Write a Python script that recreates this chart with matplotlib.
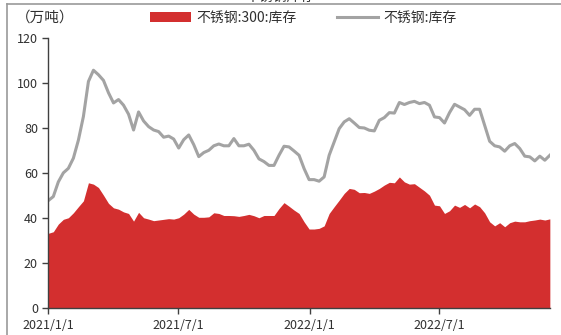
import numpy as np
import pandas as pd
import matplotlib
matplotlib.use("Agg")
import matplotlib.pyplot as plt
from matplotlib.patches import Patch
from matplotlib.lines import Line2D

plt.rcParams['font.family'] = ['Noto Sans CJK SC', 'DejaVu Sans']

# weekly stainless steel inventory, 10k tonnes
dates = pd.date_range("2021-01-01", periods=101, freq="7D")

stock_300 = [
    33.2, 33.9, 37.3, 39.4, 40.1, 42.3, 45.0, 47.6, 55.6, 55.0,
    53.5, 50.1, 46.5, 44.5, 43.9, 42.7, 42.0, 38.6, 42.5, 40.1,
    39.5, 38.8, 39.1, 39.4, 39.7, 39.5, 40.1, 41.7, 43.8, 41.7,
    40.3, 40.3, 40.5, 42.3, 42.0, 41.1, 41.1, 41.0, 40.7, 41.1,
    41.6, 41.0, 40.1, 41.1, 41.1, 41.1, 44.2, 46.8, 45.2, 43.5,
    42.0, 38.3, 35.1, 35.1, 35.4, 36.5, 42.0, 45.0, 47.9, 50.9,
    53.1, 52.7, 51.2, 51.3, 50.9, 51.9, 53.1, 54.6, 55.8, 55.6,
    58.2, 56.0, 55.0, 55.2, 53.6, 52.0, 50.1, 45.7, 45.4, 42.0,
    43.2, 45.7, 44.7, 46.0, 44.5, 46.2, 45.0, 42.3, 38.3, 36.5,
    37.9, 36.1, 37.9, 38.6, 38.3, 38.3, 38.8, 39.1, 39.5, 39.1,
    39.6,
]

stock_total = [
    47.7, 49.5, 56.0, 60.0, 62.0, 66.5, 74.5, 85.0, 100.5, 105.5,
    103.5, 101.0, 95.5, 91.0, 92.5, 90.0, 86.0, 79.0, 87.0, 83.0,
    80.5, 79.0, 78.3, 75.8, 76.3, 75.0, 71.0, 74.7, 76.8, 72.5,
    67.2, 69.0, 70.0, 72.0, 72.8, 72.0, 72.0, 75.2, 72.0, 72.0,
    72.7, 70.0, 66.2, 65.0, 63.3, 63.3, 67.8, 71.8, 71.5, 69.7,
    67.8, 61.9, 57.0, 57.0, 56.3, 58.2, 67.8, 73.7, 79.6, 82.6,
    84.0, 82.1, 80.1, 79.9, 78.9, 78.6, 83.3, 84.5, 86.7, 86.5,
    91.2, 90.3, 91.2, 91.7, 90.7, 91.2, 90.0, 84.8, 84.5, 82.1,
    86.7, 90.4, 89.2, 88.0, 85.5, 88.2, 88.2, 81.1, 74.0, 72.0,
    71.5, 69.6, 72.0, 73.0, 70.8, 67.4, 67.1, 65.3, 67.4, 65.6,
    67.8,
]

tick_dates = pd.to_datetime(["2021-01-01", "2021-07-01", "2022-01-01", "2022-07-01"])
tick_labels = ["2021/1/1", "2021/7/1", "2022/1/1", "2022/7/1"]
series_names = ["不锈钢:300:库存", "不锈钢:库存"]

red = "#d32f2f"
grey = "#a3a3a3"
axis_col = "#404040"
text_col = "#303030"

fig = plt.figure(figsize=(5.61, 3.35), dpi=100)
ax = fig.add_axes([0.0861, 0.080, 0.894, 0.808])

ax.fill_between(dates, 0, stock_300, color=red, linewidth=0)
ax.plot(dates, stock_total, color=grey, linewidth=2.2)

ax.set_xlim(dates[0], dates[-1])
ax.set_ylim(0, 120)
ax.set_yticks(np.arange(0, 121, 20))
ax.set_xticks(tick_dates)
ax.set_xticklabels(tick_labels)

for side in ["top", "right"]:
    ax.spines[side].set_visible(False)
for side in ["left", "bottom"]:
    ax.spines[side].set_color(axis_col)
    ax.spines[side].set_linewidth(1.0)
ax.tick_params(axis="both", colors=axis_col, labelcolor=text_col,
               labelsize=9, length=4, width=1.0, direction="out")
ax.tick_params(axis="x", pad=3.5)
ax.tick_params(axis="y", pad=3.5)

# unit label
fig.text(16 / 561, 1 - 18 / 335, "（万吨）", fontsize=10.5, color=text_col,
         ha="left", va="center")

handles = [
    Patch(facecolor=red, edgecolor="none"),
    Line2D([0], [0], color=grey, linewidth=2.2),
]
fig.legend(handles, series_names, ncol=2, frameon=False,
           loc="center", bbox_to_anchor=(303 / 561, 1 - 17.5 / 335),
           fontsize=10, handlelength=3.0, handleheight=0.75,
           columnspacing=2.9, handletextpad=0.35, labelcolor=text_col)

# title sits above the frame and is almost entirely cut off
fig.text(0.5, 1 - 0.5 / 335, "不锈钢库存", fontsize=10, color=text_col,
         ha="center", va="baseline")

# outer frame: top and left edges only
fig.add_artist(Line2D([7 / 561, 1.0], [1 - 3.5 / 335, 1 - 3.5 / 335],
                      transform=fig.transFigure, color="#9a9a9a", linewidth=1.2))
fig.add_artist(Line2D([7 / 561, 7 / 561], [0.0, 1 - 3.5 / 335],
                      transform=fig.transFigure, color="#9a9a9a", linewidth=1.2))

fig.savefig("out.png", dpi=100)
